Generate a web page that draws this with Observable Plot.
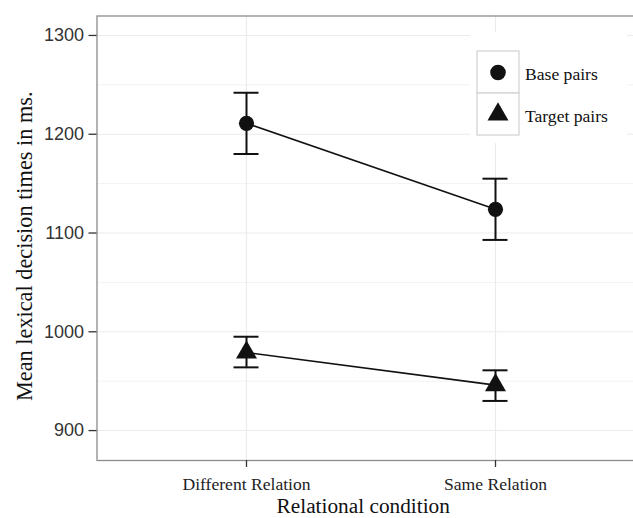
<!DOCTYPE html>
<html>
<head>
<meta charset="utf-8">
<script src="https://cdn.jsdelivr.net/npm/d3@7"></script>
<script src="https://cdn.jsdelivr.net/npm/@observablehq/plot@0.6"></script>
<style>
  html, body { margin: 0; padding: 0; background: white; overflow: hidden; }
  #wrap { position: relative; width: 633px; height: 518px; }
  #legend { position: absolute; left: 0; top: 0; }
</style>
</head>
<body>
<div id="wrap"></div>
<script>
// ---- data ----
const conditions = ["Different Relation", "Same Relation"];
const groups = ["Base pairs", "Target pairs"];
const baseMean = [1211, 1124];
const baseLo = [1180, 1093];
const baseHi = [1242, 1155];
const targetMean = [979, 946];
const targetLo = [964, 930];
const targetHi = [995, 961];
const yTicks = [900, 1000, 1100, 1200, 1300];
const yMinorTicks = [950, 1050, 1150, 1250];
const xTitle = "Relational condition";
const yTitle = "Mean lexical decision times in ms.";

const rows = [];
conditions.forEach((c, i) => {
  rows.push({cond: c, group: groups[0], mean: baseMean[i], lo: baseLo[i], hi: baseHi[i]});
  rows.push({cond: c, group: groups[1], mean: targetMean[i], lo: targetLo[i], hi: targetHi[i]});
});

const serif = "'Liberation Serif', 'Times New Roman', serif";
const sans = "'Liberation Sans', Arial, sans-serif";
const ink = "#111";

const chart = Plot.plot({
  width: 633,
  height: 518,
  marginLeft: 96.5,
  marginRight: -12,
  marginTop: 15.5,
  marginBottom: 58,
  style: {fontFamily: serif, background: "white", color: "#222"},
  x: {type: "point", domain: conditions, padding: 0.6},
  y: {domain: [869.7, 1319.7]},
  symbol: {domain: groups, range: ["circle", "triangle"]},
  marks: [
    Plot.ruleY(yMinorTicks, {stroke: "#f2f2f2", strokeWidth: 1}),
    Plot.ruleY(yTicks, {stroke: "#ebebeb", strokeWidth: 1.1}),
    Plot.ruleX(conditions, {stroke: "#ebebeb", strokeWidth: 1.1}),
    Plot.frame({stroke: "#8c8c8c", strokeWidth: 1.3}),
    Plot.axisY({ticks: yTicks, label: null, tickSize: 8, tickPadding: 5,
      fontSize: 18, fontFamily: sans, stroke: "#333", fill: "#333", strokeWidth: 1.3, tickFormat: d => String(d)}),
    Plot.axisX({label: null, tickSize: 7, tickPadding: 10,
      fontSize: 17.6, fontFamily: serif, stroke: "#333", fill: "#222", strokeWidth: 1.3}),
    Plot.ruleX(rows, {x: "cond", y1: "lo", y2: "hi", stroke: ink, strokeWidth: 2}),
    Plot.ruleY(rows, {x1: "cond", x2: "cond", y: "lo", insetLeft: -12.5, insetRight: -12.5, stroke: ink, strokeWidth: 2}),
    Plot.ruleY(rows, {x1: "cond", x2: "cond", y: "hi", insetLeft: -12.5, insetRight: -12.5, stroke: ink, strokeWidth: 2}),
    Plot.line(rows, {x: "cond", y: "mean", z: "group", stroke: ink, strokeWidth: 1.6}),
    Plot.dot(rows.filter(d => d.group === groups[0]), {x: "cond", y: "mean", symbol: "group", fill: ink, r: 7.6}),
    Plot.dot(rows.filter(d => d.group === groups[1]), {x: "cond", y: "mean", symbol: "group", fill: ink, r: 7.8}),
    Plot.text([xTitle], {text: d => d, frameAnchor: "bottom", lineAnchor: "middle", dx: -8, dy: 46, fontSize: 21.3, fontFamily: serif, fill: "#111"}),
    Plot.text([yTitle], {text: d => d, frameAnchor: "left", textAnchor: "middle", lineAnchor: "middle", rotate: -90, dx: -72, dy: 8, fontSize: 22.3, fontFamily: serif, fill: "#111"})
  ]
});
document.getElementById("wrap").appendChild(chart);

// ---- legend (inside panel, top right) ----
const lg = d3.select("#wrap").append("svg")
  .attr("id", "legend").attr("width", 633).attr("height", 518)
  .style("pointer-events", "none");
lg.append("rect").attr("x", 470).attr("y", 32).attr("width", 157).attr("height", 111).attr("fill", "white");
const symbolTypes = [d3.symbolCircle, d3.symbolTriangle];
const symbolSizes = [Math.PI * 7.8 * 7.8, Math.PI * 7.8 * 7.8];
groups.forEach((g, i) => {
  const top = 51 + i * 42;
  lg.append("rect").attr("x", 477).attr("y", top).attr("width", 42).attr("height", 42)
    .attr("fill", "white").attr("stroke", "#d4d4d4").attr("stroke-width", 1.3);
  lg.append("path").attr("d", d3.symbol(symbolTypes[i], symbolSizes[i])())
    .attr("transform", `translate(498,${top + 21.5})`).attr("fill", ink);
  lg.append("text").attr("x", 525).attr("y", top + 28.5)
    .attr("font-family", serif).attr("font-size", 17.6).attr("fill", "#111").text(g);
});
</script>
</body>
</html>
